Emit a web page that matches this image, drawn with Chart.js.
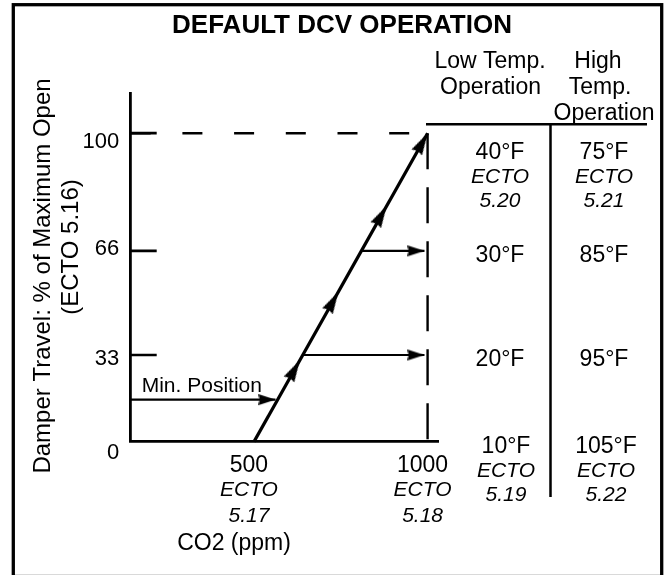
<!DOCTYPE html>
<html>
<head>
<meta charset="utf-8">
<title>Default DCV Operation</title>
<script src="https://cdn.jsdelivr.net/npm/chart.js@4.4.1/dist/chart.umd.min.js"></script>
<style>
  html, body { margin: 0; padding: 0; background: #fff; }
  #wrap { width: 665px; height: 575px; position: relative; }
</style>
</head>
<body>
<div id="wrap"><canvas id="dcvChart"></canvas></div>
<script>
// axis ticks
var co2Ticks = [500, 1000];
var co2Refs = ['5.17', '5.18'];
var travelTicks = [0, 33, 66, 100];

// damper ramp, min CO2 -> max CO2
var rampCo2 = [500, 1000];
var rampTravel = [0, 100];
// direction arrows along the ramp (tip positions)
var headCo2 = [632, 743, 882, 1000];
var headTravel = [31, 53, 79, 100];

// stage arrows off the ramp
var stageTravel = [66, 33];
var stageFromCo2 = [809, 641];
var stageToCo2 = 991;

// minimum position arrow
var minPosTravel = 16;
var minPosToCo2 = 562;

// temperature table, one row per travel level
var rowTravel = [100, 66, 33, 0];
var lowTemp = ['40°F', '30°F', '20°F', '10°F'];
var highTemp = ['75°F', '85°F', '95°F', '105°F'];
var lowRef = ['5.20', '', '', '5.19'];
var highRef = ['5.21', '', '', '5.22'];

var FAM = '"Liberation Sans", Arial, Helvetica, sans-serif';

// travel axis is drawn out of scale, so map values through fixed stops
class SteppedScale extends Chart.LinearScale {
  toFraction(v) {
    var s = this.options.stops, i = 1;
    while (i < s.length - 1 && v > s[i][0]) i++;
    var a = s[i - 1], b = s[i];
    return a[1] + (v - a[0]) / (b[0] - a[0]) * (b[1] - a[1]);
  }
  fromFraction(f) {
    var s = this.options.stops, i = 1;
    while (i < s.length - 1 && f > s[i][1]) i++;
    var a = s[i - 1], b = s[i];
    return a[0] + (f - a[1]) / (b[1] - a[1]) * (b[0] - a[0]);
  }
  getPixelForValue(value) {
    if (value === null || isNaN(value)) return NaN;
    return this.getPixelForDecimal(this.toFraction(value));
  }
  getValueForPixel(pixel) {
    return this.fromFraction(this.getDecimalForPixel(pixel));
  }
}
SteppedScale.id = 'stepped';
SteppedScale.defaults = {};
Chart.register(SteppedScale);

// arrowhead sprite, pointing up, tip in the centre of the canvas
function arrowHead(len, wid) {
  var c = document.createElement('canvas');
  c.width = wid + 2;
  c.height = len * 2;
  var g = c.getContext('2d');
  var cx = c.width / 2;
  g.fillStyle = '#000';
  g.beginPath();
  g.moveTo(cx, len);
  g.lineTo(cx + wid / 2, len * 2);
  g.lineTo(cx, len * 2 - len * 0.08);
  g.lineTo(cx - wid / 2, len * 2);
  g.closePath();
  g.fill();
  return c;
}
var bigHead = arrowHead(22, 12);
var smallHead = arrowHead(17, 11);

function pts(xs, ys) {
  return xs.map(function (v, i) { return { x: v, y: ys[i] }; });
}

// angle of the ramp on screen, for rotating its arrowheads
function rampAngle(chart) {
  var x = chart.scales.x, y = chart.scales.y;
  var dx = x.getPixelForValue(rampCo2[1]) - x.getPixelForValue(rampCo2[0]);
  var dy = y.getPixelForValue(rampTravel[1]) - y.getPixelForValue(rampTravel[0]);
  return Math.atan2(dx, -dy) * 180 / Math.PI;
}

function arrowSet(data, width) {
  return {
    data: data,
    showLine: true,
    borderColor: '#000',
    borderWidth: width,
    pointRadius: [0, 5],
    pointStyle: [false, smallHead],
    rotation: 90,
    clip: false
  };
}

var xMin = 145, xMax = 1030;

var datasets = [
  {
    data: pts(rampCo2, rampTravel),
    showLine: true,
    borderColor: '#000',
    borderWidth: 3.3,
    pointRadius: 0,
    clip: false
  },
  {
    data: pts(headCo2, headTravel),
    showLine: false,
    pointRadius: 5,
    pointStyle: bigHead,
    rotation: function (ctx) { return rampAngle(ctx.chart); },
    clip: false
  },
  {
    // 100% reference, dashed across to max CO2
    data: pts([xMin, 1000], [100, 100]),
    showLine: true,
    borderColor: '#000',
    borderWidth: 2.4,
    borderDash: [20, 31.7],
    pointRadius: 0,
    clip: false
  },
  {
    data: pts([1000, 1000], [100, 0]),
    showLine: true,
    borderColor: '#000',
    borderWidth: 2.4,
    borderDash: [36, 18],
    pointRadius: 0,
    clip: false
  },
  arrowSet(pts([xMin, minPosToCo2], [minPosTravel, minPosTravel]), 2.2),
  arrowSet(pts([stageFromCo2[0], stageToCo2], [stageTravel[0], stageTravel[0]]), 2.2),
  arrowSet(pts([stageFromCo2[1], stageToCo2], [stageTravel[1], stageTravel[1]]), 2.2)
];

function txt(ctx, s, x, y, font, align) {
  ctx.font = font;
  ctx.textAlign = align || 'center';
  ctx.fillText(s, x, y);
}

// label shift below each travel tick
var travelLabelDrop = { 0: 17, 33: 10, 66: 4, 100: 15 };

var decor = {
  id: 'decor',
  beforeDatasetsDraw: function (chart) {
    var ctx = chart.ctx, x = chart.scales.x, y = chart.scales.y;
    ctx.save();
    ctx.strokeStyle = '#000';
    ctx.lineWidth = 2.7;
    ctx.beginPath();
    y.ticks.forEach(function (t) {
      if (t.value === 0) return;
      var py = y.getPixelForValue(t.value);
      ctx.moveTo(x.left, py);
      ctx.lineTo(x.left + 26, py);
    });
    ctx.stroke();

    // table rules
    var top = y.getPixelForValue(100) - 9;
    ctx.lineWidth = 2.5;
    ctx.beginPath();
    ctx.moveTo(x.right - 12, top);
    ctx.lineTo(647, top);
    ctx.moveTo(550.5, top);
    ctx.lineTo(550.5, 497);
    ctx.stroke();
    ctx.restore();
  },
  afterDraw: function (chart) {
    var ctx = chart.ctx, x = chart.scales.x, y = chart.scales.y;
    var reg = '23px ' + FAM, ita = 'italic 21px ' + FAM;
    ctx.save();
    ctx.fillStyle = '#000';
    ctx.textBaseline = 'alphabetic';

    txt(ctx, 'DEFAULT DCV OPERATION', 342, 33, 'bold 26px ' + FAM);

    txt(ctx, 'Low Temp.', 490, 68, reg);
    txt(ctx, 'Operation', 490.5, 94, reg);
    txt(ctx, 'High', 598, 68, reg);
    txt(ctx, 'Temp.', 600, 94, reg);
    txt(ctx, 'Operation', 604, 120, reg);

    rowTravel.forEach(function (v, i) {
      var py = y.getPixelForValue(v);
      var base = v === 100 ? py + 26 : py + 11;
      var lx = v === 0 ? 506 : 500, hx = v === 0 ? 606 : 604;
      txt(ctx, lowTemp[i], lx, base, reg);
      txt(ctx, highTemp[i], hx, base, reg);
      if (lowRef[i]) {
        txt(ctx, 'ECTO', lx, base + 24, ita);
        txt(ctx, lowRef[i], lx, base + 48, ita);
      }
      if (highRef[i]) {
        txt(ctx, 'ECTO', hx, base + 24, ita);
        txt(ctx, highRef[i], hx, base + 48, ita);
      }
    });

    co2Ticks.forEach(function (v, i) {
      var px = x.getPixelForValue(v) - 5;
      txt(ctx, String(v), px, 471.7, reg);
      txt(ctx, 'ECTO', px, 496, ita);
      txt(ctx, co2Refs[i], px, 521.5, ita);
    });
    txt(ctx, 'CO2 (ppm)', 234, 550, reg);

    y.ticks.forEach(function (t) {
      var py = y.getPixelForValue(t.value);
      txt(ctx, String(t.value), x.left - 11.5, py + travelLabelDrop[t.value], '22px ' + FAM, 'right');
    });

    txt(ctx, 'Min. Position', x.left + 11, y.getPixelForValue(minPosTravel) - 7.5, '21px ' + FAM, 'left');

    // rotated travel axis title
    ctx.save();
    ctx.translate(50, 276);
    ctx.rotate(-Math.PI / 2);
    txt(ctx, 'Damper Travel: % of Maximum Open', 0, 0, '24px ' + FAM);
    ctx.restore();
    ctx.save();
    ctx.translate(78, 247);
    ctx.rotate(-Math.PI / 2);
    txt(ctx, '(ECTO 5.16)', 0, 0, '24px ' + FAM);
    ctx.restore();

    // frame
    ctx.strokeStyle = '#000';
    ctx.lineWidth = 3.3;
    ctx.strokeRect(13.3, 4.7, 648.4, 571.8);
    ctx.restore();
  }
};

new Chart(document.getElementById('dcvChart'), {
  type: 'scatter',
  data: { datasets: datasets },
  plugins: [decor],
  options: {
    responsive: true,
    maintainAspectRatio: false,
    animation: false,
    events: [],
    layout: { padding: { left: 130.7, top: 93.5, right: 227, bottom: 133.3 } },
    plugins: { legend: { display: false }, tooltip: { enabled: false } },
    scales: {
      x: {
        type: 'linear',
        min: xMin,
        max: xMax,
        bounds: 'data',
        ticks: { display: false },
        grid: { display: false, drawTicks: false },
        border: { display: true, color: '#000', width: 2.8 }
      },
      y: {
        type: 'stepped',
        min: 0,
        max: 112,
        bounds: 'data',
        stops: [[0, 0], [33, 0.249], [66, 0.548], [100, 0.886], [112, 1]],
        afterBuildTicks: function (s) {
          s.ticks = travelTicks.map(function (v) { return { value: v }; });
        },
        ticks: { display: false },
        grid: { display: false, drawTicks: false },
        border: { display: true, color: '#000', width: 2.8 }
      }
    }
  }
});
</script>
</body>
</html>
